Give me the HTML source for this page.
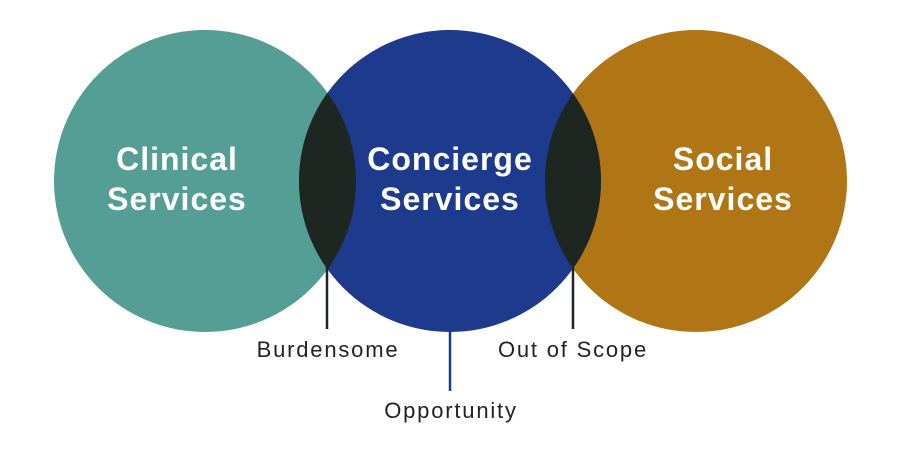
<!DOCTYPE html>
<html><head><meta charset="utf-8"><style>
html,body{margin:0;padding:0;background:#fff;}
svg{display:block;}
text{font-family:"Liberation Sans",sans-serif;}
</style></head><body>
<svg width="900" height="450" viewBox="0 0 900 450" xmlns="http://www.w3.org/2000/svg">
<defs>
<clipPath id="cl"><circle cx="205" cy="181" r="151"/></clipPath>
<clipPath id="cr"><circle cx="696" cy="181" r="151"/></clipPath>
</defs>
<circle cx="205" cy="181" r="151" fill="#559e96"/>
<circle cx="696" cy="181" r="151" fill="#b07514"/>
<circle cx="450" cy="181" r="151" fill="#1d3a8c"/>
<circle cx="450" cy="181" r="151" fill="#1e2621" clip-path="url(#cl)"/>
<circle cx="450" cy="181" r="151" fill="#1e2621" clip-path="url(#cr)"/>
<g fill="#fff" font-weight="bold" font-size="32" letter-spacing="1" text-anchor="middle">
<text x="177" y="170">Clinical</text><text x="177" y="210">Services</text>
<text x="450" y="170">Concierge</text><text x="450" y="210">Services</text>
<text x="723" y="170">Social</text><text x="723" y="210">Services</text>
</g>
<g stroke="#1e2621" stroke-width="2.5">
<line x1="327" y1="266" x2="327" y2="329"/>
<line x1="573" y1="266" x2="573" y2="329"/>
</g>
<line x1="450" y1="332" x2="450" y2="391" stroke="#1d3a8c" stroke-width="2.5"/>
<g fill="#222" font-size="22" letter-spacing="1.8" text-anchor="middle">
<text x="328" y="357">Burdensome</text>
<text x="573" y="357">Out of Scope</text>
<text x="451" y="418">Opportunity</text>
</g>
</svg>
</body></html>
